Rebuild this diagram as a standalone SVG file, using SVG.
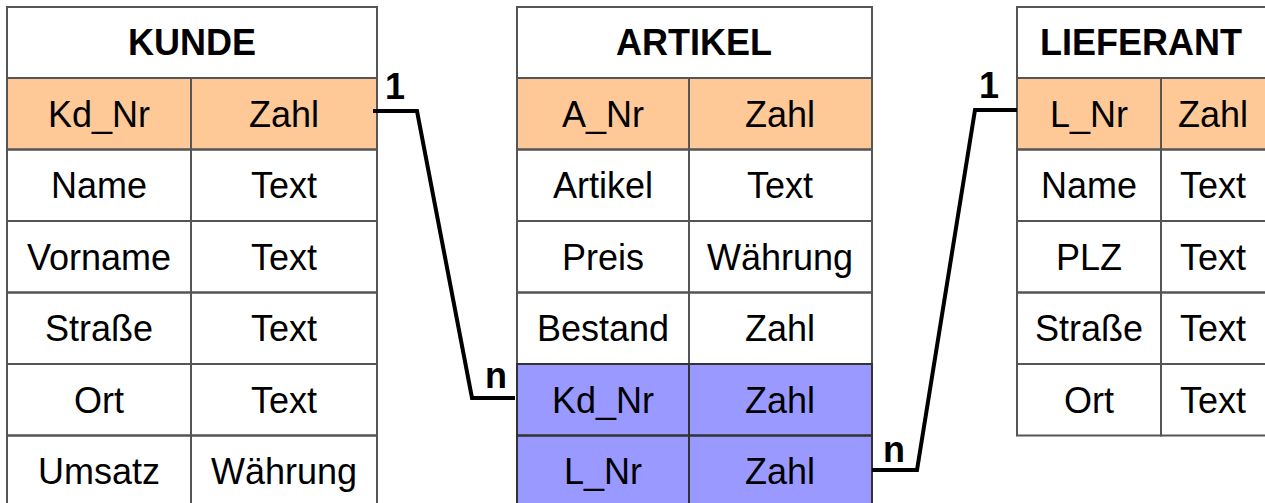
<svg xmlns="http://www.w3.org/2000/svg" width="1265" height="503" viewBox="0 0 1265 503">
<style>
.bg{fill:#ffffff}
.pk{fill:#ffc997}
.fk{fill:#9999ff}
.cell{fill:none;stroke:#555555;stroke-width:2}
.fkc{fill:none;stroke:#333333;stroke-width:2}
.t{font-family:"Liberation Sans",Arial,sans-serif;font-size:36px;fill:#000;text-anchor:middle}
.h{font-family:"Liberation Sans",Arial,sans-serif;font-size:36px;font-weight:bold;fill:#000;text-anchor:middle}
.lbl{font-family:"Liberation Sans",Arial,sans-serif;font-size:36px;font-weight:bold;fill:#000;text-anchor:middle}
.con{fill:none;stroke:#000;stroke-width:4;stroke-linejoin:miter}
</style>
<rect width="1265" height="503" fill="#ffffff"/>

<g id="kunde">
<rect class="bg" x="7" y="7" width="370" height="510"/>
<rect class="pk" x="7" y="78" width="370" height="71.5"/>
<rect class="cell" x="7" y="7" width="370" height="71"/>
<rect class="cell" x="7" y="78" width="184" height="71.5"/>
<rect class="cell" x="191" y="78" width="186" height="71.5"/>
<rect class="cell" x="7" y="149.5" width="184" height="71.5"/>
<rect class="cell" x="191" y="149.5" width="186" height="71.5"/>
<rect class="cell" x="7" y="221" width="184" height="71.5"/>
<rect class="cell" x="191" y="221" width="186" height="71.5"/>
<rect class="cell" x="7" y="292.5" width="184" height="71.5"/>
<rect class="cell" x="191" y="292.5" width="186" height="71.5"/>
<rect class="cell" x="7" y="364" width="184" height="71.5"/>
<rect class="cell" x="191" y="364" width="186" height="71.5"/>
<rect class="cell" x="7" y="435.5" width="184" height="80"/>
<rect class="cell" x="191" y="435.5" width="186" height="80"/>
<text class="h" x="192" y="55">KUNDE</text>
<text class="t" x="99" y="127">Kd_Nr</text><text class="t" x="284" y="127">Zahl</text>
<text class="t" x="99" y="198">Name</text><text class="t" x="284" y="198">Text</text>
<text class="t" x="99" y="270">Vorname</text><text class="t" x="284" y="270">Text</text>
<text class="t" x="99" y="341">Straße</text><text class="t" x="284" y="341">Text</text>
<text class="t" x="99" y="413">Ort</text><text class="t" x="284" y="413">Text</text>
<text class="t" x="99" y="484">Umsatz</text><text class="t" x="284" y="484">Währung</text>
</g>

<g id="artikel">
<rect class="bg" x="517" y="7" width="355" height="510"/>
<rect class="pk" x="517" y="78" width="355" height="71.5"/>
<rect class="fk" x="517" y="364" width="355" height="150"/>
<rect class="cell" x="517" y="7" width="355" height="71"/>
<rect class="cell" x="517" y="78" width="172" height="71.5"/>
<rect class="cell" x="689" y="78" width="183" height="71.5"/>
<rect class="cell" x="517" y="149.5" width="172" height="71.5"/>
<rect class="cell" x="689" y="149.5" width="183" height="71.5"/>
<rect class="cell" x="517" y="221" width="172" height="71.5"/>
<rect class="cell" x="689" y="221" width="183" height="71.5"/>
<rect class="cell" x="517" y="292.5" width="172" height="71.5"/>
<rect class="cell" x="689" y="292.5" width="183" height="71.5"/>
<rect class="fkc" x="517" y="364" width="172" height="71.5"/>
<rect class="fkc" x="689" y="364" width="183" height="71.5"/>
<rect class="fkc" x="517" y="435.5" width="172" height="80"/>
<rect class="fkc" x="689" y="435.5" width="183" height="80"/>
<text class="h" x="694" y="55">ARTIKEL</text>
<text class="t" x="603" y="127">A_Nr</text><text class="t" x="780" y="127">Zahl</text>
<text class="t" x="603" y="198">Artikel</text><text class="t" x="780" y="198">Text</text>
<text class="t" x="603" y="270">Preis</text><text class="t" x="780" y="270">Währung</text>
<text class="t" x="603" y="341">Bestand</text><text class="t" x="780" y="341">Zahl</text>
<text class="t" x="603" y="413">Kd_Nr</text><text class="t" x="780" y="413">Zahl</text>
<text class="t" x="603" y="484">L_Nr</text><text class="t" x="780" y="484">Zahl</text>
</g>

<g id="lieferant">
<rect class="bg" x="1017" y="7" width="250" height="428.5"/>
<rect class="pk" x="1017" y="78" width="250" height="71.5"/>
<rect class="cell" x="1017" y="7" width="250" height="71"/>
<rect class="cell" x="1017" y="78" width="144" height="71.5"/>
<rect class="cell" x="1161" y="78" width="106" height="71.5"/>
<rect class="cell" x="1017" y="149.5" width="144" height="71.5"/>
<rect class="cell" x="1161" y="149.5" width="106" height="71.5"/>
<rect class="cell" x="1017" y="221" width="144" height="71.5"/>
<rect class="cell" x="1161" y="221" width="106" height="71.5"/>
<rect class="cell" x="1017" y="292.5" width="144" height="71.5"/>
<rect class="cell" x="1161" y="292.5" width="106" height="71.5"/>
<rect class="cell" x="1017" y="364" width="144" height="71.5"/>
<rect class="cell" x="1161" y="364" width="106" height="71.5"/>
<text class="h" x="1141" y="55">LIEFERANT</text>
<text class="t" x="1089" y="127">L_Nr</text><text class="t" x="1213" y="127">Zahl</text>
<text class="t" x="1089" y="198">Name</text><text class="t" x="1213" y="198">Text</text>
<text class="t" x="1089" y="270">PLZ</text><text class="t" x="1213" y="270">Text</text>
<text class="t" x="1089" y="341">Straße</text><text class="t" x="1213" y="341">Text</text>
<text class="t" x="1089" y="413">Ort</text><text class="t" x="1213" y="413">Text</text>
</g>

<g id="connectors">
<polyline class="con" points="373,111 417,111 472,398 515,398"/>
<polyline class="con" points="872,470 917,470 975,110 1017,110"/>
<text class="lbl" x="395" y="99">1</text>
<text class="lbl" x="496" y="388">n</text>
<text class="lbl" x="989" y="98">1</text>
<text class="lbl" x="894" y="462">n</text>
</g>
</svg>
